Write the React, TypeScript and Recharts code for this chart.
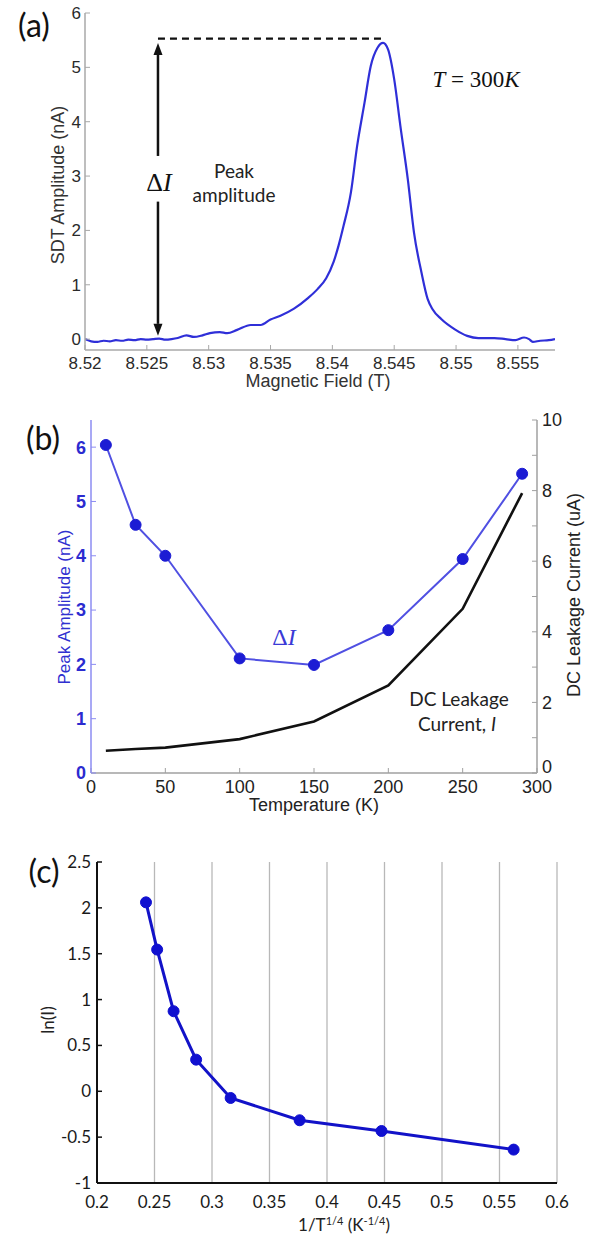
import React from 'react';
import { LineChart, Line, XAxis, YAxis, ReferenceLine, CartesianGrid } from 'recharts';

const SANS = '"Liberation Sans", Arial, sans-serif';
const LATO = 'Lato, "Open Sans", sans-serif';
const SERIF = '"Liberation Serif", "DejaVu Serif", serif';

// ---------- (a) SDT amplitude vs magnetic field ----------
const fieldA = [
  8.52, 8.5205, 8.521, 8.5215, 8.522, 8.5225, 8.523, 8.5235, 8.524, 8.5245,
  8.525, 8.5255, 8.526, 8.5265, 8.527, 8.5275, 8.5282, 8.5288, 8.5295, 8.5301,
  8.5309, 8.5315, 8.5323, 8.5334, 8.5342, 8.535, 8.5358, 8.5369, 8.538, 8.5388,
  8.5395, 8.5401, 8.5405, 8.5409, 8.5415, 8.542, 8.5426, 8.5431, 8.54365, 8.5441,
  8.5445, 8.545, 8.5455, 8.5461, 8.5466, 8.5472, 8.5477, 8.5481, 8.5488, 8.5499,
  8.5509, 8.5518, 8.5531, 8.554, 8.5548, 8.5555, 8.5559, 8.5562, 8.5568, 8.5575, 8.558,
];
const ampA = [
  0.0, -0.04, -0.05, -0.03, -0.04, -0.02, -0.03, -0.01, -0.02, 0.0,
  -0.01, 0.0, 0.01, -0.01, 0.0, 0.02, 0.07, 0.04, 0.07, 0.11,
  0.13, 0.11, 0.17, 0.26, 0.26, 0.36, 0.43, 0.56, 0.75, 0.92,
  1.12, 1.42, 1.72, 2.08, 2.7, 3.55, 4.35, 5.02, 5.36, 5.45,
  5.33, 4.78, 3.92, 2.94, 1.96, 1.23, 0.74, 0.55, 0.37, 0.18,
  0.06, 0.02, 0.02, 0.0, -0.02, 0.03, 0.0, -0.05, -0.03, -0.02, 0.0,
];
const fieldTicksA = [8.52, 8.525, 8.53, 8.535, 8.54, 8.545, 8.55, 8.555];
const ampTicksA = [0, 1, 2, 3, 4, 5, 6];
const peakLevelA = 5.53;
const arrowFieldA = 8.5259;
const peakFieldA = 8.5441;
const arrowTopA = 5.45;
const arrowGapTopA = 3.37;
const arrowGapBottomA = 2.53;
const arrowBottomA = 0.06;

// ---------- (b) peak amplitude & leakage current vs temperature ----------
const tempsB = [10, 30, 50, 100, 150, 200, 250, 290];
const peakAmpB = [6.04, 4.57, 4.0, 2.11, 1.99, 2.63, 3.94, 5.51];
const leakB = [0.63, 0.68, 0.72, 0.96, 1.46, 2.48, 4.65, 7.93];
const tempTicksB = [0, 50, 100, 150, 200, 250, 300];
const leftTicksB = [0, 1, 2, 3, 4, 5, 6];
const rightTicksB = [0, 1, 2, 3, 4, 5, 6, 7, 8, 9, 10];

// ---------- (c) ln(I) vs 1/T^(1/4) ----------
const invTC = [0.2426, 0.2523, 0.2666, 0.2862, 0.3162, 0.3762, 0.4474, 0.5623];
const lnIC = [2.06, 1.545, 0.873, 0.345, -0.073, -0.316, -0.433, -0.636];
const xTicksC = [0.2, 0.25, 0.3, 0.35, 0.4, 0.45, 0.5, 0.55, 0.6];
const yTicksC = [-1, -0.5, 0, 0.5, 1, 1.5, 2, 2.5];

const dataA = fieldA.map((f, i) => ({ f, a: ampA[i] }));
const dataB = tempsB.map((t, i) => ({ t, amp: peakAmpB[i], leak: leakB[i] }));
const dataC = invTC.map((x, i) => ({ x, y: lnIC[i] }));

const makeArrow = (p: any) => {
  const { x1, y1, x2, y2 } = p;
  const dx = x1 - x2;
  const dy = y1 - y2;
  const len = Math.hypot(dx, dy) || 1;
  const ux = dx / len;
  const uy = dy / len;
  const L = 12;
  const W = 4.5;
  const bx = x1 - ux * L;
  const by = y1 - uy * L;
  return (
    <g>
      <line x1={bx} y1={by} x2={x2} y2={y2} stroke="#111" strokeWidth={2.5} />
      <polygon
        points={`${x1},${y1} ${bx - uy * W},${by + ux * W} ${bx + uy * W},${by - ux * W}`}
        fill="#111"
      />
    </g>
  );
};

const rightTickB = (p: any) => {
  const v = p.payload.value;
  if (v % 2 !== 0) return <g />;
  return (
    <text
      x={p.x}
      y={v === 0 ? p.y - 6 : p.y}
      dy="0.36em"
      textAnchor="start"
      fontSize={18}
      fill="#222"
      fontFamily={SANS}
    >
      {v}
    </text>
  );
};

const Txt = ({ x, y, size, children, color = '#222', font = SANS, rotate = false, style = {} }: any) => (
  <div
    style={{
      position: 'absolute',
      left: x,
      top: y,
      transform: `translate(-50%, -50%)${rotate ? ' rotate(-90deg)' : ''}`,
      fontSize: size,
      color,
      fontFamily: font,
      whiteSpace: 'nowrap',
      lineHeight: 1,
      ...style,
    }}
  >
    {children}
  </div>
);

const frameA = '#a8a8a8';

function ChartA() {
  return (
    <LineChart width={595} height={400} data={dataA} margin={{ top: 13, right: 40, bottom: 20, left: 0 }}>
      <XAxis
        dataKey="f"
        type="number"
        domain={[8.52, 8.558]}
        allowDataOverflow
        ticks={fieldTicksA}
        interval={0}
        height={30}
        tickSize={-5}
        tickMargin={12}
        axisLine={{ stroke: frameA, strokeWidth: 1.5 }}
        tickLine={{ stroke: frameA }}
        tick={{ fontSize: 17, fill: '#2a2a2a', fontFamily: SANS }}
        tickFormatter={(v: number) => String(+v.toFixed(3))}
      />
      <XAxis
        xAxisId="top"
        orientation="top"
        dataKey="f"
        type="number"
        domain={[8.52, 8.558]}
        allowDataOverflow
        ticks={fieldTicksA}
        interval={0}
        height={0}
        tickSize={-5}
        tick={false}
        axisLine={{ stroke: frameA, strokeWidth: 1.5 }}
        tickLine={{ stroke: frameA }}
      />
      <YAxis
        type="number"
        domain={[-0.2, 6]}
        allowDataOverflow
        ticks={ampTicksA}
        interval={0}
        width={85}
        tickSize={-5}
        tickMargin={9}
        axisLine={{ stroke: frameA, strokeWidth: 1.5 }}
        tickLine={{ stroke: frameA }}
        tick={{ fontSize: 17, fill: '#2a2a2a', fontFamily: SANS }}
      />
      <YAxis
        yAxisId="r"
        orientation="right"
        type="number"
        domain={[-0.2, 6]}
        allowDataOverflow
        ticks={ampTicksA}
        interval={0}
        width={0}
        tickSize={-5}
        tick={false}
        axisLine={{ stroke: frameA, strokeWidth: 1.5 }}
        tickLine={{ stroke: frameA }}
      />
      <Line
        dataKey="a"
        type="monotone"
        stroke="#2f2fd8"
        strokeWidth={2.2}
        dot={false}
        isAnimationActive={false}
      />
      <ReferenceLine
        segment={[
          { x: arrowFieldA, y: peakLevelA },
          { x: peakFieldA, y: peakLevelA },
        ]}
        stroke="#111"
        strokeWidth={2.2}
        strokeDasharray="7 5"
      />
      <ReferenceLine
        segment={[
          { x: arrowFieldA, y: arrowTopA },
          { x: arrowFieldA, y: arrowGapTopA },
        ]}
        shape={makeArrow}
      />
      <ReferenceLine
        segment={[
          { x: arrowFieldA, y: arrowBottomA },
          { x: arrowFieldA, y: arrowGapBottomA },
        ]}
        shape={makeArrow}
      />
    </LineChart>
  );
}

const frameB = '#a0a0a0';

function ChartB() {
  return (
    <LineChart width={595} height={400} data={dataB} margin={{ top: 20, right: 0, bottom: 0, left: 0 }}>
      <XAxis
        dataKey="t"
        type="number"
        domain={[0, 300]}
        ticks={tempTicksB}
        interval={0}
        height={27}
        tickSize={-5}
        tickMargin={12}
        axisLine={{ stroke: frameB, strokeWidth: 1.5 }}
        tickLine={{ stroke: frameB }}
        tick={{ fontSize: 18, fill: '#222', fontFamily: SANS }}
      />
      <XAxis
        xAxisId="top"
        orientation="top"
        dataKey="t"
        type="number"
        domain={[0, 300]}
        ticks={tempTicksB}
        interval={0}
        height={0}
        tickSize={-5}
        tick={false}
        axisLine={{ stroke: frameB, strokeWidth: 1.5 }}
        tickLine={{ stroke: frameB }}
      />
      <YAxis
        yAxisId="l"
        type="number"
        domain={[0, 6.5]}
        ticks={leftTicksB}
        interval={0}
        width={91}
        tickSize={-5}
        tickMargin={10}
        axisLine={{ stroke: '#8c8cf2', strokeWidth: 1.5 }}
        tickLine={{ stroke: '#8c8cf2' }}
        tick={{ fontSize: 18, fill: '#2b2bd0', fontFamily: SANS, fontWeight: 'bold' }}
      />
      <YAxis
        yAxisId="r"
        orientation="right"
        type="number"
        domain={[0, 10]}
        ticks={rightTicksB}
        interval={0}
        width={58}
        tickSize={-5}
        tickMargin={10}
        axisLine={{ stroke: frameB, strokeWidth: 1.5 }}
        tickLine={{ stroke: frameB }}
        tick={rightTickB}
      />
      <Line
        yAxisId="r"
        dataKey="leak"
        type="linear"
        stroke="#111"
        strokeWidth={2.6}
        dot={false}
        isAnimationActive={false}
      />
      <Line
        yAxisId="l"
        dataKey="amp"
        type="linear"
        stroke="#5050e2"
        strokeWidth={2}
        dot={{ r: 5.5, fill: '#1c1cd4', stroke: '#1c1cd4', strokeWidth: 1 }}
        isAnimationActive={false}
      />
    </LineChart>
  );
}

function ChartC() {
  return (
    <LineChart width={595} height={384} data={dataC} margin={{ top: 12, right: 38, bottom: 21, left: 0 }}>
      <CartesianGrid horizontal={false} stroke="#b8b8b8" strokeWidth={1.3} />
      <XAxis
        dataKey="x"
        type="number"
        domain={[0.2, 0.6]}
        ticks={xTicksC}
        interval={0}
        height={30}
        tickLine={false}
        tickSize={0}
        tickMargin={13}
        axisLine={{ stroke: '#111', strokeWidth: 2 }}
        tick={{ fontSize: 17, fill: '#1a1a1a', fontFamily: LATO }}
      />
      <XAxis
        xAxisId="top"
        orientation="top"
        dataKey="x"
        type="number"
        domain={[0.2, 0.6]}
        ticks={xTicksC}
        height={0}
        tick={false}
        tickLine={false}
        axisLine={{ stroke: '#111', strokeWidth: 2 }}
      />
      <YAxis
        type="number"
        domain={[-1, 2.5]}
        ticks={yTicksC}
        interval={0}
        width={97}
        tickSize={-5}
        tickMargin={11}
        axisLine={{ stroke: '#111', strokeWidth: 2 }}
        tickLine={{ stroke: '#111', strokeWidth: 1.5 }}
        tick={{ fontSize: 17, fill: '#1a1a1a', fontFamily: LATO }}
      />
      <YAxis
        yAxisId="r"
        orientation="right"
        type="number"
        domain={[-1, 2.5]}
        ticks={yTicksC}
        interval={0}
        width={0}
        tickSize={-5}
        tick={false}
        axisLine={{ stroke: '#111', strokeWidth: 2 }}
        tickLine={{ stroke: '#111', strokeWidth: 1.5 }}
      />
      <Line
        dataKey="y"
        type="linear"
        stroke="#1212c8"
        strokeWidth={3}
        dot={{ r: 5.5, fill: '#1010d0', stroke: '#1010d0', strokeWidth: 1 }}
        isAnimationActive={false}
      />
    </LineChart>
  );
}

export default function App() {
  return (
    <div style={{ position: 'absolute', left: 0, top: 0, width: 595, height: 1234, background: '#fff', overflow: 'hidden' }}>
      <div style={{ position: 'absolute', left: 0, top: 0 }}>
        <ChartA />
      </div>
      <div style={{ position: 'absolute', left: 0, top: 400 }}>
        <ChartB />
      </div>
      <div style={{ position: 'absolute', left: 0, top: 850 }}>
        <ChartC />
      </div>

      {/* (a) texts */}
      <Txt x={34} y={25} size={32} font={LATO} color="#111">(a)</Txt>
      <Txt x={318} y={381} size={18} color="#333">Magnetic Field (T)</Txt>
      <Txt x={58} y={185} size={18} color="#333" rotate>SDT Amplitude (nA)</Txt>
      <Txt x={159} y={183} size={26} font={SERIF} color="#111">
        Δ<i>I</i>
      </Txt>
      <Txt x={234} y={170} size={19} font={LATO} color="#222">Peak</Txt>
      <Txt x={234} y={194} size={19} font={LATO} color="#222">amplitude</Txt>
      <Txt x={476} y={79} size={23} font={SERIF} color="#111">
        <i>T</i> = 300<i>K</i>
      </Txt>

      {/* (b) texts */}
      <Txt x={43} y={438} size={32} font={LATO} color="#111">(b)</Txt>
      <Txt x={314} y={805} size={18} color="#222">Temperature (K)</Txt>
      <Txt x={64} y={607} size={17} color="#3030d0" rotate>Peak Amplitude (nA)</Txt>
      <Txt x={574} y={595} size={18} color="#222" rotate>DC Leakage Current (uA)</Txt>
      <Txt x={284} y={637} size={24} font={SERIF} color="#3a3ad6">
        Δ<i>I</i>
      </Txt>
      <Txt x={459} y={698} size={19} font={LATO} color="#222">DC Leakage</Txt>
      <Txt x={457} y={723} size={19} font={LATO} color="#222">
        Current, <i>I</i>
      </Txt>

      {/* (c) texts */}
      <Txt x={44} y={871} size={32} font={LATO} color="#111">(c)</Txt>
      <Txt x={47} y={1020} size={17} font={LATO} color="#222" rotate>ln(I)</Txt>
      <Txt x={344} y={1224} size={17} font={LATO} color="#222">
        1/T<sup style={{ fontSize: 11 }}>1/4</sup> (K<sup style={{ fontSize: 11 }}>-1/4</sup>)
      </Txt>
    </div>
  );
}
